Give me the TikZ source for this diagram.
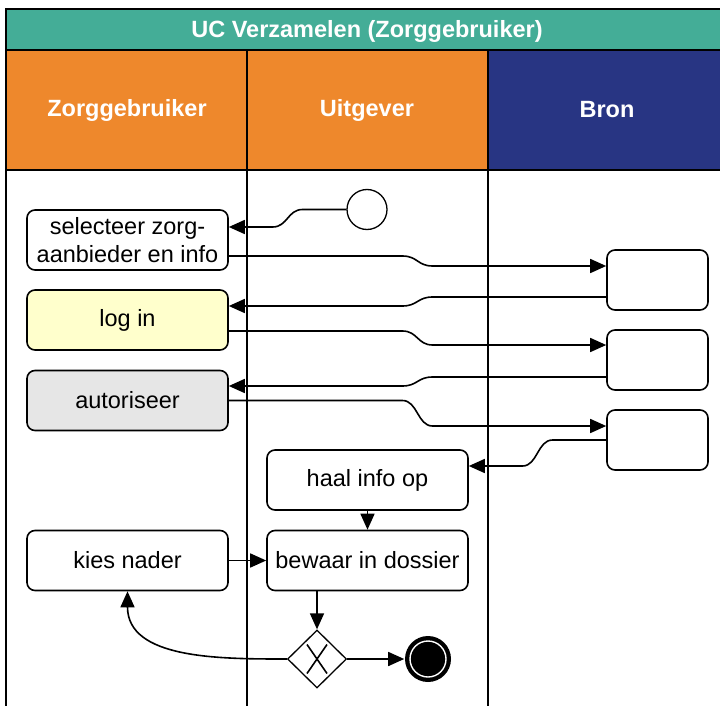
\documentclass[tikz,border=0pt]{standalone}
\usepackage{fontspec}
\setmainfont{Liberation Sans}
\usetikzlibrary{positioning,calc,shapes.geometric,arrows.meta}

\definecolor{titleteal}{RGB}{68,173,151}
\definecolor{laneorange}{RGB}{238,136,44}
\definecolor{lanenavy}{RGB}{40,53,131}
\definecolor{loginyellow}{RGB}{255,255,204}
\definecolor{authgray}{RGB}{230,230,230}

\begin{document}
\begin{tikzpicture}[
        x=1pt,y=-1pt,line width=1.6pt,
        every node/.append style={font=\fontsize{23.5}{28}\selectfont},
        head/.style={text=white,font=\fontsize{23.5}{28}\selectfont\bfseries},
        task/.style={draw,rounded corners=8pt,minimum width=201pt,
            minimum height=60pt,align=center,inner sep=2pt},
        srcbox/.style={draw,rounded corners=8pt,minimum width=101pt,
            minimum height=60pt},
        flow/.style={-{Triangle[length=16pt,width=14pt]}},
        sbend/.style={to path={let \p1=(\tikztostart),\p2=(\tikztotarget),
            \n1={(\x1+\x2)/2},\n2={sign(\x2-\x1)*15} in -- ({\n1-\n2},\y1)
            .. controls (\n1,\y1) and (\n1,\y2) .. ({\n1+\n2},\y2)
            -- (\tikztotarget)}},
    ]
    \useasboundingbox (0,0) rectangle (720,706);

    % Pool header
    \fill[titleteal] (6,9) rectangle (730,50);
    \fill[laneorange] (6,50) rectangle (488,170);
    \fill[lanenavy] (488,50) rectangle (730,170);
    \draw (6,706) -- (6,9) -- (730,9);
    \draw (6,50) -- (730,50);
    \draw (6,170) -- (730,170);
    \draw (247,50) -- (247,706);
    \draw (488,50) -- (488,706);
    \node[head] (pool) at (367,31) {UC Verzamelen (Zorggebruiker)};
    \node[head] (lanez) at (127,110) {Zorggebruiker};
    \node[head] (laneu) at (367,110) {Uitgever};
    \node[head] (laneb) at (607,110) {Bron};

    % Zorggebruiker lane
    \node[task] (sel) at (127.5,240) {selecteer zorg-\\aanbieder en info};
    \node[task,fill=loginyellow] (login) at (127.5,320) {log in};
    \node[task,fill=authgray] (auth) at (127.5,400.5) {autoriseer};
    \node[task] (kies) at (127.5,560.5) {kies nader};

    % Uitgever lane
    \node[circle,draw,line width=1.3pt,minimum size=40pt] (start) at (367,209.5) {};
    \node[task] (haal) at (367.5,480) {haal info op};
    \node[task] (bewaar) at (367.5,560.5) {bewaar in dossier};
    \node[diamond,draw,line width=1.3pt,minimum width=59pt,minimum height=58pt,
        inner sep=0pt] (gate) at (317,659) {};
    \draw (gate.center) ++(-10,-14.5) -- ++(20,29);
    \draw (gate.center) ++(10,-14.5) -- ++(-20,29);
    \node[circle,fill=black,minimum size=46pt,inner sep=0pt] (stop) at (428,659) {};
    \draw[white,line width=1.4pt] (stop.center) circle (18);

    % Bron lane
    \node[srcbox] (bron1) at (657.5,280) {};
    \node[srcbox] (bron2) at (657.5,360) {};
    \node[srcbox] (bron3) at (657.5,440) {};

    % flows
    \draw[flow] (start.west) to[sbend] ([yshift=13pt]sel.east);
    \draw[flow] ([yshift=-16pt]sel.east) to[sbend] ([yshift=14pt]bron1.west);
    \draw[flow] ([yshift=-17pt]bron1.west) to[sbend] ([yshift=14pt]login.east);
    \draw[flow] ([yshift=-11pt]login.east) to[sbend] ([yshift=15pt]bron2.west);
    \draw[flow] ([yshift=-17pt]bron2.west) to[sbend] ([yshift=14.5pt]auth.east);
    \draw[flow] (auth.east) to[sbend] ([yshift=14pt]bron3.west);
    \draw[flow] (bron3.west) to[sbend] ([yshift=14pt]haal.east);
    \draw[flow] (haal) -- (bewaar);
    \draw[flow] (kies) -- (bewaar);
    \draw[flow] ([xshift=-50.5pt]bewaar.south) -- (gate.north);
    \draw[flow] (gate) -- (stop);
    \draw[flow] (gate.west) to[out=180,in=-90] (kies.south);

\end{tikzpicture}
\end{document}
